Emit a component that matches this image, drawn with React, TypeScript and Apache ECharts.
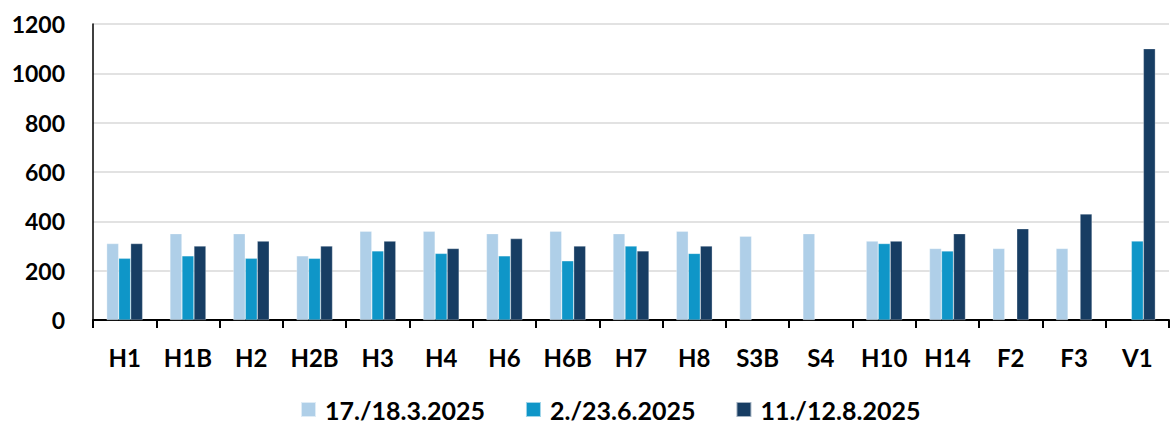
import React, { useEffect, useRef } from "react";
import * as echarts from "echarts";

const categories = ["H1", "H1B", "H2", "H2B", "H3", "H4", "H6", "H6B", "H7", "H8", "S3B", "S4", "H10", "H14", "F2", "F3", "V1"];
const seriesNames = ["17./18.3.2025", "2./23.6.2025", "11./12.8.2025"];
const march = [310, 350, 350, 260, 360, 360, 350, 360, 350, 360, 340, 350, 320, 290, 290, 290, null];
const june = [250, 260, 250, 250, 280, 270, 260, 240, 300, 270, null, null, 310, 280, null, null, 320];
const august = [310, 300, 320, 300, 320, 290, 330, 300, 280, 300, null, null, 320, 350, 370, 430, 1100];
const colors = ["#AFCFE8", "#0F96C8", "#173D63"];
const yTicks = { min: 0, max: 1200, interval: 200 };

const FONT = "Lato";

export default function App() {
  const ref = useRef<HTMLDivElement>(null);
  useEffect(() => {
    if (!ref.current) return;
    const chart = echarts.init(ref.current, null, { renderer: "svg" });
    const data = [march, june, august];
    chart.setOption({
      animation: false,
      grid: { left: 93, right: 2, top: 24, bottom: 106, containLabel: false },
      legend: {
        bottom: -1,
        left: 295,
        itemWidth: 15,
        itemHeight: 15,
        itemGap: 40,
        icon: "rect",
        textStyle: { fontFamily: FONT, fontWeight: "bold", fontSize: 25, color: "#000", padding: [0, 0, 0, 4] },
        data: seriesNames,
      },
      xAxis: {
        type: "category",
        data: categories,
        boundaryGap: true,
        axisLine: { lineStyle: { color: "#000", width: 2 } },
        axisTick: { show: true, length: 8, lineStyle: { color: "#000", width: 2 } },
        axisLabel: { fontFamily: FONT, fontWeight: "bold", fontSize: 24, color: "#000", margin: 25 },
      },
      yAxis: {
        type: "value",
        min: yTicks.min,
        max: yTicks.max,
        interval: yTicks.interval,
        axisLine: { show: true, lineStyle: { color: "#000", width: 1.5 } },
        axisTick: { show: false },
        splitLine: { lineStyle: { color: "#D9D9D9", width: 1.5 } },
        axisLabel: {
          fontFamily: FONT,
          fontWeight: "bold",
          fontSize: 23,
          color: "#000",
          margin: 28,
          formatter: (v: number) => String(v),
        },
      },
      series: seriesNames.map((name, i) => ({
        name,
        type: "bar",
        data: data[i],
        barWidth: 12,
        barGap: "0%",
        itemStyle: { color: colors[i], borderColor: "rgba(255,255,255,0.6)", borderWidth: 0.5 },
      })),
    });
    return () => chart.dispose();
  }, []);
  return <div ref={ref} style={{ width: 1171, height: 426, position: "absolute", left: 0, top: 0 }} />;
}
